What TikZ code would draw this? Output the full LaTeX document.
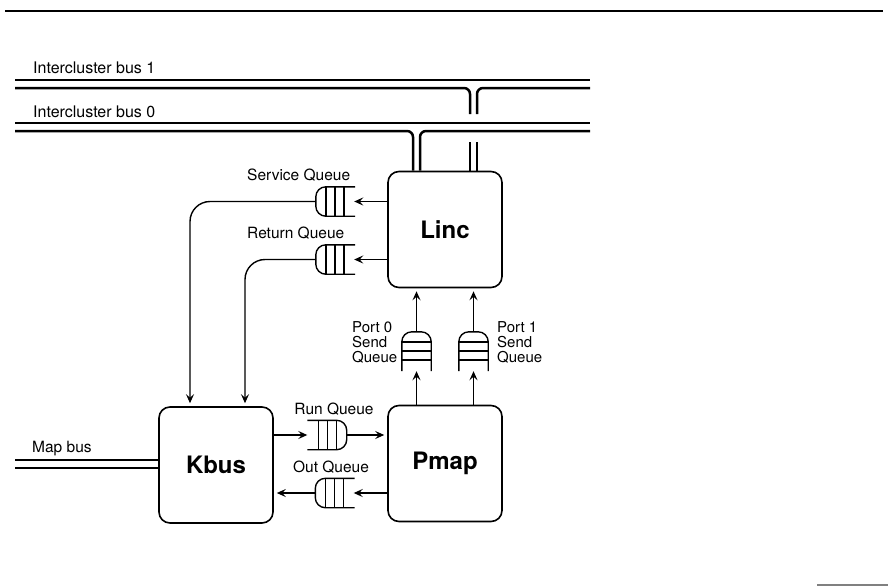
\documentclass[tikz,border=0pt]{standalone}
\usepackage{fontspec}
\setmainfont{TeX Gyre Heros}
\usetikzlibrary{arrows.meta}
\tikzset{
  unit/.style={draw,line width=1.6pt,rounded corners=11pt,minimum width=114pt,minimum height=116pt,inner sep=0pt,font=\fontsize{24}{24}\selectfont\bfseries},
  qh/.style={minimum width=39pt,minimum height=29pt,inner sep=0pt},
  qv/.style={minimum width=29pt,minimum height=39pt,inner sep=0pt},
  lbl/.style={inner sep=0pt,font=\fontsize{15.5}{15}\selectfont},
  bus/.style={line width=2.5pt},
  link/.style={line width=1.4pt},
  arr/.style={link,shorten >=3pt,-{Stealth[length=9pt,width=8pt,inset=3.5pt]}}
}
% queues: rounded end, three slots, open end
\newcommand{\qopenright}[1]{\draw[link,rounded corners=10pt] (#1.north east)--(#1.north west)--(#1.south west)--(#1.south east);
  \foreach \q in {10,19,28} {\draw[link] ([xshift=\q pt]#1.north west)--([xshift=\q pt]#1.south west);}}
\newcommand{\qopenleft}[1]{\draw[link,rounded corners=10pt] (#1.north west)--(#1.north east)--(#1.south east)--(#1.south west);
  \foreach \q in {10,19,28} {\draw[link] ([xshift=-\q pt]#1.north east)--([xshift=-\q pt]#1.south east);}}
\newcommand{\qopenbelow}[1]{\draw[link,rounded corners=10pt] (#1.south west)--(#1.north west)--(#1.north east)--(#1.south east);
  \foreach \q in {10,19,28} {\draw[link] ([yshift=-\q pt]#1.north west)--([yshift=-\q pt]#1.north east);}}
\begin{document}
\begin{tikzpicture}[x=1pt,y=-1pt]
\useasboundingbox (0,0) rectangle (888,586);
\draw[line width=1.8pt] (5,11)--(883,11);
\draw[gray,line width=1.5pt] (817,585)--(888,585);
\node[unit] (linc) at (445,229.5) {Linc};
\node[unit] (pmap) at (445,463.5) {Pmap};
\node[unit] (kbus) at (216,465) {Kbus};
% intercluster buses and map bus
\draw[bus] (15,80)--(590,80);
\draw[bus,rounded corners=6pt] (15,88)-|(470,114);
\draw[bus,rounded corners=6pt] (590,88)-|(477,114);
\draw[bus] (470,142)--([xshift=25pt]linc.north);
\draw[bus] (477,142)--([xshift=32pt]linc.north);
\draw[bus] (15,123)--(590,123);
\draw[bus,rounded corners=6pt] (15,131)-|([xshift=-32pt]linc.north);
\draw[bus,rounded corners=6pt] (590,131)-|([xshift=-25pt]linc.north);
\draw[bus] (15,460)--([yshift=5pt]kbus.west);
\draw[bus] (15,468)--([yshift=-3pt]kbus.west);
\node[lbl,font=\fontsize{16}{16}\selectfont,anchor=base west] (ib1) at (33,74) {Intercluster bus 1};
\node[lbl,font=\fontsize{16}{16}\selectfont,anchor=base west] (ib0) at (33,117.5) {Intercluster bus 0};
\node[lbl,anchor=base west] (mb) at (32,452) {Map bus};
% queues
\node[qh] (svq) at (335.5,201.5) {}; \qopenright{svq}
\node[qh] (rtq) at (335.5,259.5) {}; \qopenright{rtq}
\node[qh] (runq) at (327,435) {}; \qopenleft{runq}
\node[qh] (outq) at (335,493) {}; \qopenright{outq}
\node[qv] (sq0) at (416.5,351.5) {}; \qopenbelow{sq0}
\node[qv] (sq1) at (473.5,351.5) {}; \qopenbelow{sq1}
\node[lbl,anchor=base west] (svl) at (247,180) {Service Queue};
\node[lbl,anchor=base west] (rtl) at (247,238) {Return Queue};
\node[lbl,anchor=base] (runl) at (334,414) {Run Queue};
\node[lbl,anchor=base] (outl) at (331,472) {Out Queue};
\node[lbl,font=\fontsize{15}{15}\selectfont,align=left,anchor=north west] (p0l) at (352,321) {Port 0\\Send\\Queue};
\node[lbl,font=\fontsize{15}{15}\selectfont,align=left,anchor=north west] (p1l) at (497,321) {Port 1\\Send\\Queue};
% connections
\draw[arr] (linc.west|-svq)--([xshift=-4pt]svq.east);
\draw[arr] (linc.west|-rtq)--([xshift=-4pt]rtq.east);
\draw[arr,rounded corners=20pt] (svq.west)-|([xshift=-26pt]kbus.north);
\draw[arr,rounded corners=20pt] (rtq.west)-|([xshift=29pt]kbus.north);
\draw[arr] (kbus.east|-runq)--([xshift=3pt]runq.west);
\draw[arr] (runq.east)--(pmap.west|-runq);
\draw[arr] (pmap.west|-outq)--([xshift=-4pt]outq.east);
\draw[arr] (outq.west)--(kbus.east|-outq);
\draw[arr] (pmap.north-|sq0)--([yshift=3pt]sq0.south);
\draw[arr] (pmap.north-|sq1)--([yshift=3pt]sq1.south);
\draw[arr] (sq0.north)--(linc.south-|sq0);
\draw[arr] (sq1.north)--(linc.south-|sq1);
\end{tikzpicture}
\end{document}
